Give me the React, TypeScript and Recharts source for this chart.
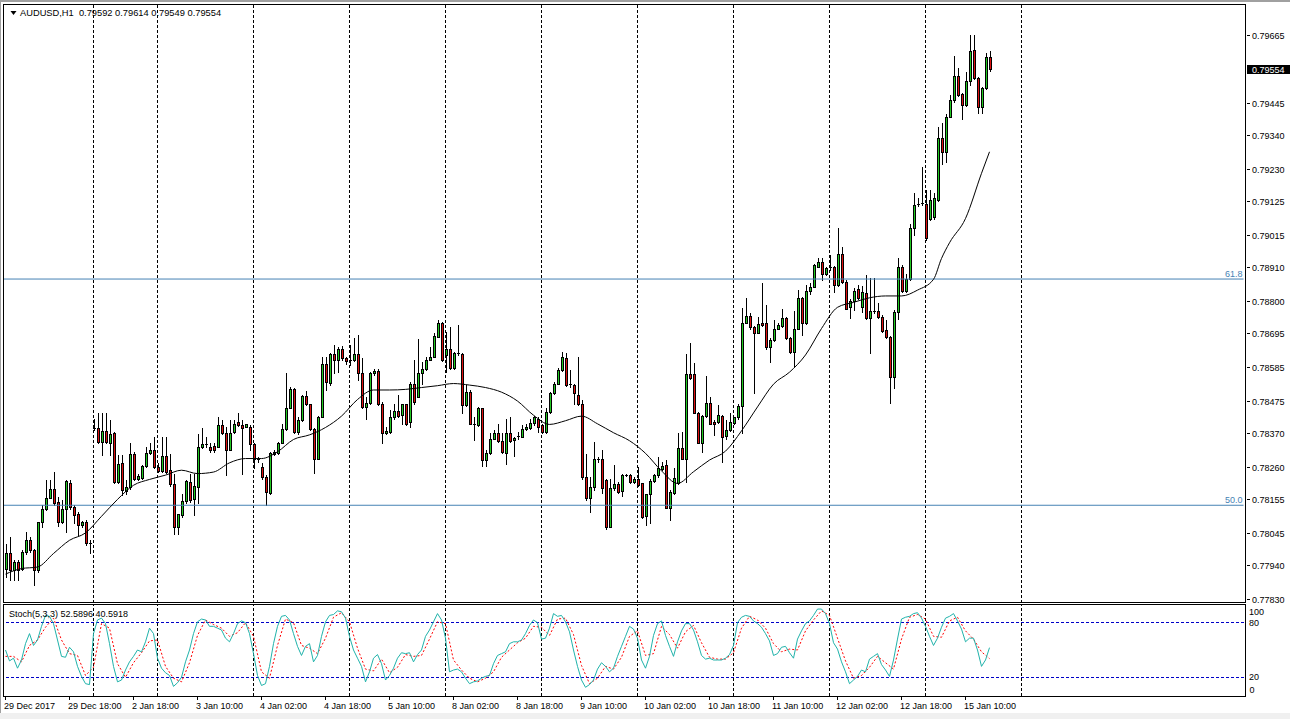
import { ComposedChart, Bar, Line, XAxis, YAxis, ReferenceLine } from 'recharts';

// AUDUSD H1 candles, bar 0 = 29 Dec 2017 02:00
const opens = [
  0.77929, 0.7798, 0.77924, 0.77951, 0.77929, 0.77983, 0.78021, 0.77989, 0.77924, 0.78081,
  0.78124, 0.7816, 0.78189, 0.78144, 0.78081, 0.78124, 0.78209, 0.7813, 0.78108, 0.7807,
  0.78079, 0.78013, 0.78385, 0.78385, 0.78341, 0.78376, 0.78338, 0.78371, 0.78211, 0.78271,
  0.78182, 0.78193, 0.78303, 0.7822, 0.78225, 0.78262, 0.78306, 0.78316, 0.78258, 0.78247,
  0.78295, 0.78249, 0.78203, 0.78063, 0.78103, 0.78148, 0.78211, 0.78154, 0.78193, 0.78325,
  0.78334, 0.78325, 0.78327, 0.78325, 0.78396, 0.78369, 0.78316, 0.78374, 0.78407, 0.78396,
  0.7839, 0.7839, 0.78334, 0.78287, 0.7826, 0.78227, 0.78175, 0.78303, 0.78306, 0.78338,
  0.78382, 0.78453, 0.78512, 0.78374, 0.78412, 0.78492, 0.78464, 0.78382, 0.78287, 0.78423,
  0.78596, 0.78533, 0.78626, 0.78607, 0.78645, 0.78613, 0.78605, 0.78607, 0.78627, 0.78564,
  0.78455, 0.78468, 0.78564, 0.78573, 0.78466, 0.78369, 0.78374, 0.78421, 0.78441, 0.78428,
  0.78463, 0.78407, 0.78531, 0.78488, 0.78564, 0.78577, 0.78609, 0.78618, 0.78683, 0.78729,
  0.78624, 0.78645, 0.7858, 0.78629, 0.78627, 0.78461, 0.78504, 0.78401, 0.78396, 0.7845,
  0.78282, 0.78306, 0.78352, 0.78371, 0.78345, 0.78306, 0.78369, 0.78347, 0.78356, 0.78358,
  0.78382, 0.78385, 0.78403, 0.78417, 0.78396, 0.78374, 0.78439, 0.78499, 0.78531, 0.78575,
  0.78615, 0.78529, 0.78526, 0.78493, 0.78464, 0.78228, 0.78157, 0.78193, 0.78287, 0.78287,
  0.78217, 0.78065, 0.7819, 0.78203, 0.78182, 0.78235, 0.78233, 0.78211, 0.78222, 0.78206,
  0.781, 0.78171, 0.78215, 0.78233, 0.78252, 0.78266, 0.78127, 0.78176, 0.78206, 0.7832,
  0.78287, 0.78561, 0.78561, 0.78436, 0.78338, 0.78425, 0.78469, 0.78407, 0.78407, 0.78425,
  0.7836, 0.7838, 0.78403, 0.78421, 0.78458, 0.78729, 0.78751, 0.78714, 0.78696, 0.78727,
  0.78727, 0.78649, 0.78673, 0.7871, 0.78718, 0.78743, 0.78678, 0.78635, 0.7871, 0.78808,
  0.78727, 0.78833, 0.78846, 0.78911, 0.78925, 0.78889, 0.78906, 0.78909, 0.78851, 0.78954,
  0.78862, 0.78779, 0.788, 0.78837, 0.78779, 0.78826, 0.78743, 0.78767, 0.78767, 0.78748,
  0.78705, 0.78681, 0.78553, 0.78764, 0.78909, 0.78833, 0.7887, 0.79036, 0.79111, 0.79114,
  0.79115, 0.79065, 0.79072, 0.79128, 0.79329, 0.79285, 0.79399, 0.79454, 0.79532, 0.79473,
  0.79437, 0.79515, 0.79616, 0.79524, 0.79432, 0.79492, 0.79592,
];
const highs = [
  0.7801, 0.78032, 0.77956, 0.77956, 0.77989, 0.78048, 0.78032, 0.77994, 0.78081, 0.78135,
  0.78217, 0.78217, 0.78244, 0.78162, 0.78152, 0.78217, 0.78217, 0.78135, 0.78114, 0.78084,
  0.78086, 0.78021, 0.78417, 0.78436, 0.78434, 0.78436, 0.78412, 0.78374, 0.78298, 0.78298,
  0.78217, 0.78336, 0.78309, 0.78238, 0.78265, 0.78325, 0.78336, 0.78358, 0.78271, 0.78358,
  0.78358, 0.78303, 0.78238, 0.78108, 0.78173, 0.78217, 0.78238, 0.78238, 0.78368, 0.78385,
  0.78358, 0.78336, 0.78336, 0.78423, 0.78412, 0.7839, 0.78412, 0.78412, 0.78434, 0.78412,
  0.78401, 0.78396, 0.78336, 0.78293, 0.78271, 0.78233, 0.78309, 0.78314, 0.78341, 0.78401,
  0.78564, 0.7852, 0.78515, 0.78423, 0.78493, 0.78507, 0.78466, 0.78385, 0.78425, 0.78618,
  0.78618, 0.78629, 0.78656, 0.78651, 0.78653, 0.78618, 0.78656, 0.78678, 0.78689, 0.78613,
  0.78488, 0.78569, 0.78577, 0.78577, 0.78472, 0.7839, 0.78445, 0.78466, 0.78493, 0.78466,
  0.78466, 0.78537, 0.78607, 0.78675, 0.78602, 0.78618, 0.78651, 0.78694, 0.78737, 0.78732,
  0.787, 0.78716, 0.78634, 0.78721, 0.78629, 0.78526, 0.7851, 0.78423, 0.78455, 0.78453,
  0.78314, 0.78369, 0.78379, 0.78401, 0.78369, 0.78417, 0.78423, 0.78358, 0.78374, 0.78396,
  0.78401, 0.78417, 0.78425, 0.78423, 0.78401, 0.7845, 0.78504, 0.78537, 0.7858, 0.78634,
  0.78629, 0.78575, 0.78529, 0.78618, 0.78477, 0.78303, 0.78228, 0.78341, 0.78293, 0.78314,
  0.78222, 0.78222, 0.78266, 0.78211, 0.78238, 0.78238, 0.78238, 0.78227, 0.7826, 0.78208,
  0.78173, 0.78222, 0.78238, 0.78293, 0.78276, 0.78282, 0.78184, 0.78255, 0.78371, 0.78374,
  0.78627, 0.78662, 0.78597, 0.78439, 0.78428, 0.78555, 0.78488, 0.78412, 0.78461, 0.78428,
  0.78412, 0.78434, 0.78423, 0.78466, 0.78776, 0.78808, 0.78759, 0.78718, 0.78748, 0.78857,
  0.78786, 0.78678, 0.78738, 0.78727, 0.78772, 0.78748, 0.78683, 0.78768, 0.78835, 0.78814,
  0.78852, 0.78857, 0.7892, 0.78938, 0.78938, 0.78911, 0.78949, 0.78913, 0.79036, 0.78976,
  0.78868, 0.78805, 0.78841, 0.78851, 0.78848, 0.78884, 0.78873, 0.78873, 0.78792, 0.78754,
  0.78738, 0.78685, 0.7877, 0.78941, 0.78917, 0.78889, 0.7905, 0.79152, 0.79134, 0.79237,
  0.79161, 0.79161, 0.79152, 0.79367, 0.79378, 0.79408, 0.7947, 0.79597, 0.79557, 0.79477,
  0.79546, 0.79665, 0.79665, 0.7953, 0.79497, 0.79608, 0.79614,
];
const lows = [
  0.77902, 0.77891, 0.77891, 0.77891, 0.77924, 0.77978, 0.77983, 0.77875, 0.77918, 0.78065,
  0.78119, 0.78157, 0.78135, 0.78067, 0.78076, 0.78048, 0.78124, 0.78076, 0.78038, 0.78065,
  0.78005, 0.7798, 0.78379, 0.78336, 0.78298, 0.78336, 0.78298, 0.78206, 0.78206, 0.78168,
  0.78173, 0.78189, 0.78217, 0.78217, 0.78222, 0.7826, 0.78303, 0.78255, 0.78244, 0.78244,
  0.7824, 0.78197, 0.78043, 0.78043, 0.78097, 0.78141, 0.78146, 0.78103, 0.78141, 0.7832,
  0.78325, 0.78309, 0.78309, 0.78323, 0.78366, 0.78235, 0.78314, 0.78371, 0.78392, 0.78238,
  0.78388, 0.78314, 0.78255, 0.78276, 0.78222, 0.78135, 0.78173, 0.78298, 0.78303, 0.78336,
  0.7838, 0.7845, 0.78371, 0.78366, 0.7841, 0.78461, 0.7838, 0.78241, 0.78284, 0.78421,
  0.7851, 0.78526, 0.78566, 0.78569, 0.78607, 0.78596, 0.78591, 0.78605, 0.78542, 0.78453,
  0.78417, 0.78466, 0.78558, 0.78461, 0.78338, 0.78366, 0.78371, 0.78417, 0.78423, 0.78401,
  0.78396, 0.7839, 0.78466, 0.78486, 0.78531, 0.78575, 0.78607, 0.78616, 0.78681, 0.78605,
  0.78569, 0.78577, 0.78577, 0.78624, 0.78434, 0.78458, 0.78399, 0.78347, 0.78392, 0.78262,
  0.78262, 0.78303, 0.78349, 0.78341, 0.78306, 0.78269, 0.78341, 0.78295, 0.78352, 0.78356,
  0.7838, 0.78382, 0.78396, 0.78374, 0.78371, 0.78371, 0.78436, 0.78497, 0.78529, 0.78573,
  0.78523, 0.7852, 0.78464, 0.78461, 0.78222, 0.78152, 0.78114, 0.78184, 0.78276, 0.78175,
  0.78059, 0.78063, 0.78186, 0.78176, 0.78165, 0.7823, 0.78208, 0.78208, 0.78197, 0.78092,
  0.7807, 0.78076, 0.78211, 0.78228, 0.78249, 0.78125, 0.78086, 0.78173, 0.78204, 0.78284,
  0.78211, 0.78545, 0.78434, 0.78336, 0.78309, 0.78423, 0.78399, 0.78363, 0.78403, 0.78276,
  0.78349, 0.78377, 0.78401, 0.78417, 0.78369, 0.78727, 0.7871, 0.78501, 0.78694, 0.78718,
  0.78645, 0.78602, 0.7867, 0.78707, 0.78716, 0.78675, 0.78631, 0.78588, 0.78707, 0.78689,
  0.78725, 0.78822, 0.78844, 0.78909, 0.78868, 0.78884, 0.78902, 0.7883, 0.78848, 0.78859,
  0.78772, 0.78743, 0.7877, 0.78805, 0.78765, 0.7874, 0.78631, 0.78759, 0.78743, 0.787,
  0.78678, 0.78468, 0.78515, 0.78741, 0.7883, 0.7883, 0.78868, 0.79014, 0.79109, 0.79112,
  0.78998, 0.79063, 0.79065, 0.79126, 0.79245, 0.79253, 0.79397, 0.79448, 0.79467, 0.79393,
  0.79434, 0.79502, 0.79521, 0.79412, 0.79412, 0.79488, 0.79549,
];
const closes = [
  0.7798, 0.77924, 0.77951, 0.77924, 0.77983, 0.78021, 0.77989, 0.77924, 0.78081, 0.78124,
  0.7816, 0.78189, 0.78141, 0.78081, 0.78124, 0.78213, 0.7813, 0.78103, 0.7807, 0.78079,
  0.78013, 0.78008, 0.78382, 0.78341, 0.78376, 0.78341, 0.78368, 0.78211, 0.78269, 0.78184,
  0.78193, 0.78303, 0.78222, 0.7823, 0.78262, 0.78306, 0.78316, 0.7826, 0.78247, 0.78295,
  0.78244, 0.78203, 0.78063, 0.78105, 0.78148, 0.78214, 0.78152, 0.78197, 0.78325, 0.78334,
  0.78331, 0.78314, 0.78316, 0.78396, 0.78369, 0.78316, 0.78371, 0.78399, 0.78396, 0.78385,
  0.78399, 0.78334, 0.78287, 0.78284, 0.78227, 0.78179, 0.78306, 0.78309, 0.78338, 0.78382,
  0.78453, 0.78512, 0.78374, 0.78412, 0.7849, 0.78464, 0.78382, 0.78284, 0.78423, 0.78596,
  0.78537, 0.78626, 0.78607, 0.78645, 0.78613, 0.78605, 0.78609, 0.78627, 0.78564, 0.78455,
  0.78468, 0.78564, 0.78573, 0.78466, 0.78369, 0.78377, 0.78421, 0.78441, 0.78425, 0.78463,
  0.78401, 0.78531, 0.78472, 0.78564, 0.78577, 0.78609, 0.78618, 0.78685, 0.78729, 0.78607,
  0.78642, 0.7858, 0.78629, 0.78627, 0.78461, 0.78504, 0.78401, 0.78396, 0.7845, 0.78282,
  0.78306, 0.78352, 0.78371, 0.78345, 0.78309, 0.78369, 0.78345, 0.78354, 0.7836, 0.78382,
  0.78388, 0.78403, 0.78421, 0.78388, 0.78374, 0.78439, 0.78499, 0.78531, 0.78575, 0.78618,
  0.78526, 0.78525, 0.78499, 0.78464, 0.78228, 0.78157, 0.78193, 0.78287, 0.78282, 0.7819,
  0.78065, 0.7819, 0.78203, 0.78179, 0.78235, 0.78232, 0.78211, 0.78222, 0.78201, 0.78097,
  0.78171, 0.78215, 0.78235, 0.78255, 0.78262, 0.78127, 0.78178, 0.78225, 0.7832, 0.78287,
  0.78561, 0.78548, 0.78436, 0.78338, 0.78425, 0.78469, 0.78401, 0.78398, 0.78428, 0.78358,
  0.7838, 0.78407, 0.78421, 0.78458, 0.78729, 0.78751, 0.78714, 0.78696, 0.78725, 0.78721,
  0.78649, 0.78673, 0.7871, 0.78721, 0.78743, 0.78678, 0.78635, 0.7871, 0.78808, 0.78727,
  0.78833, 0.78846, 0.78917, 0.78925, 0.78889, 0.78906, 0.78909, 0.78851, 0.78954, 0.78862,
  0.78775, 0.788, 0.78833, 0.78808, 0.7883, 0.78743, 0.78767, 0.78764, 0.78746, 0.78703,
  0.78681, 0.78551, 0.78764, 0.78909, 0.78833, 0.7887, 0.79036, 0.79112, 0.79115, 0.79119,
  0.79003, 0.79128, 0.79134, 0.79329, 0.79285, 0.79399, 0.79454, 0.79532, 0.7947, 0.79437,
  0.79515, 0.79613, 0.79524, 0.79432, 0.79492, 0.79592, 0.79554,
];

// moving average, read at these bars
const maBars = [
  0, 4, 8, 12, 16, 20, 24, 28, 32, 36, 40, 44, 48, 52, 56, 60, 64, 68, 72, 76, 80, 84, 88, 92,
  96, 100, 104, 108, 112, 116, 120, 124, 128, 132, 136, 140, 144, 148, 152, 156, 160, 164, 168,
  172, 176, 180, 184, 188, 192, 196, 200, 204, 208, 212, 216, 220, 224, 228, 232, 234, 236, 240,
  244, 246,
];
const maValues = [
  0.77911, 0.77929, 0.77934, 0.77978, 0.78021, 0.78045, 0.78099, 0.78154, 0.782, 0.78219,
  0.78233, 0.78249, 0.78238, 0.78243, 0.78273, 0.78287, 0.78287, 0.78309, 0.78349, 0.78364,
  0.78388, 0.78425, 0.78479, 0.7851, 0.7851, 0.78512, 0.78518, 0.78524, 0.78531, 0.78526,
  0.78518, 0.78503, 0.78474, 0.78428, 0.78398, 0.7841, 0.78425, 0.784, 0.78371, 0.78345,
  0.78304, 0.78247, 0.78206, 0.78244, 0.78282, 0.78311, 0.78377, 0.78455, 0.78529, 0.78568,
  0.78624, 0.7871, 0.78779, 0.78795, 0.7881, 0.78816, 0.78816, 0.78835, 0.7887, 0.78938,
  0.78989, 0.79068, 0.79215, 0.79285,
];

// Stoch(5,3,3) main line, one value per bar
const stochK = [
  50, 38, 41, 30, 39, 57, 68, 55, 61, 76, 88, 87, 79, 61, 43, 42, 53, 48, 32, 21,
  13, 12, 68, 83, 85, 79, 57, 32, 15, 17, 28, 37, 43, 50, 48, 59, 74, 68, 41, 30,
  25, 22, 10, 14, 20, 37, 50, 68, 81, 84, 83, 76, 76, 74, 72, 63, 59, 68, 79, 82,
  80, 68, 46, 22, 11, 13, 32, 57, 76, 87, 88, 83, 68, 54, 44, 54, 57, 37, 44, 65,
  81, 88, 89, 93, 92, 85, 65, 50, 41, 32, 15, 26, 41, 45, 35, 17, 22, 30, 41, 47,
  46, 47, 37, 45, 50, 65, 72, 81, 90, 83, 63, 26, 28, 29, 26, 19, 13, 15, 16, 19,
  21, 22, 35, 44, 46, 48, 57, 59, 59, 61, 68, 77, 83, 80, 62, 63, 74, 90, 87, 88,
  81, 70, 50, 32, 17, 9, 12, 17, 29, 36, 32, 26, 30, 43, 54, 65, 76, 73, 63, 39,
  30, 43, 66, 79, 82, 66, 54, 43, 59, 71, 79, 79, 72, 59, 44, 40, 41, 39, 39, 39,
  41, 45, 55, 80, 86, 88, 87, 82, 79, 75, 68, 60, 44, 46, 53, 54, 47, 41, 62, 71,
  79, 82, 88, 95, 95, 90, 79, 58, 51, 37, 26, 13, 17, 21, 28, 26, 40, 43, 46, 34,
  28, 21, 39, 62, 84, 86, 87, 90, 91, 85, 76, 65, 55, 63, 75, 85, 87, 90, 82, 73,
  59, 63, 63, 50, 32, 39, 52.5896,
];
// signal line, read every second bar
const stochD = [
  43, 43, 37, 55, 61, 75, 85, 61, 46, 44, 22, 31, 79, 74, 35, 20, 36, 47, 60, 61,
  32, 19, 15, 36, 66, 83, 78, 74, 65, 69, 80, 65, 26, 19, 55, 84, 80, 55, 52, 46,
  63, 86, 91, 81, 52, 29, 27, 40, 25, 31, 45, 43, 44, 62, 81, 79, 39, 28, 19, 15,
  19, 26, 42, 50, 58, 63, 76, 75, 66, 84, 85, 67, 33, 13, 19, 32, 29, 42, 65, 71,
  44, 46, 76, 67, 52, 70, 77, 58, 42, 40, 40, 47, 74, 87, 83, 74, 57, 48, 51, 50,
  71, 83, 93, 88, 63, 38, 19, 22, 31, 43, 36, 29, 62, 86, 89, 84, 65, 64, 82, 86,
  71, 62, 48, 40.5918,
];

const timeTicks = [0, 16, 32, 48, 64, 80, 96, 112, 128, 144, 160, 176, 192, 208, 224, 240];
const timeLabels = [
  '29 Dec 2017', '29 Dec 18:00', '2 Jan 18:00', '3 Jan 10:00', '4 Jan 02:00', '4 Jan 18:00',
  '5 Jan 10:00', '8 Jan 02:00', '8 Jan 18:00', '9 Jan 10:00', '10 Jan 02:00', '10 Jan 18:00',
  '11 Jan 10:00', '12 Jan 02:00', '12 Jan 18:00', '15 Jan 10:00',
];
const priceTicks = [
  0.79665, 0.79554, 0.79445, 0.7934, 0.7923, 0.79125, 0.79015, 0.7891, 0.788, 0.78695, 0.78585,
  0.78475, 0.7837, 0.7826, 0.78155, 0.78045, 0.7794, 0.7783,
];
const separators = [22, 38, 62, 86, 110, 134, 158, 182, 206, 230, 254];
const fibLevels = [0.78871, 0.78135];
const fibNames = ['61.8', '50.0'];
const stochLevels = [80, 20];
const stochTicks = [20, 80, 100];

const SLOTS = 310;
const FONT = '"Liberation Sans", Arial, sans-serif';
const GREEN = '#22c922';
const RED = '#dd1111';
const lastClose = closes[closes.length - 1];

const rows = Array.from({ length: SLOTS }, (_, i) => {
  const has = i < closes.length;
  const m = maBars.indexOf(i);
  return {
    i,
    range: has ? [lows[i], highs[i]] : undefined,
    o: opens[i],
    h: highs[i],
    l: lows[i],
    c: closes[i],
    ma: m >= 0 ? maValues[m] : undefined,
    k: has ? stochK[i] : undefined,
    d: i % 2 === 0 && i / 2 < stochD.length ? stochD[i / 2] : undefined,
  };
});

function Candle(props: any) {
  const { x, y, width, height, payload } = props;
  if (!payload || payload.c === undefined || !isFinite(y)) return null;
  const { o, h, l, c } = payload;
  const top = Math.min(y, y + height);
  const span = Math.abs(height);
  const cx = Math.floor(x + width / 2) + 0.5;
  const py = (p: number) => top + (h === l ? 0 : ((h - p) / (h - l)) * span);
  const bTop = Math.round(py(Math.max(o, c)));
  const bBot = Math.round(py(Math.min(o, c)));
  return (
    <g shapeRendering="crispEdges">
      <line x1={cx} x2={cx} y1={Math.round(top)} y2={Math.round(top + span) + 1} stroke="#000" />
      {bBot - bTop >= 2 ? (
        <rect
          x={cx - 1}
          y={bTop + 0.5}
          width={2}
          height={bBot - bTop}
          fill={c > o ? GREEN : RED}
          stroke="#000"
          strokeWidth={1}
        />
      ) : (
        <line x1={cx - 1.5} x2={cx + 1.5} y1={bTop + 0.5} y2={bTop + 0.5} stroke="#000" />
      )}
    </g>
  );
}

function PriceTick(props: any) {
  const { x, y, payload } = props;
  const v = payload.value;
  const ax = Math.round(x);
  const yy = Math.round(y) + 0.5;
  if (v === lastClose) {
    return (
      <g>
        <rect x={ax + 3} y={yy - 4.5} width={50} height={9} fill="#000" />
        <text x={ax + 8} y={yy + 3} fill="#fff" fontSize={9} fontFamily={FONT}>
          {v.toFixed(5)}
        </text>
      </g>
    );
  }
  return (
    <g>
      <line x1={ax + 3} x2={ax + 6} y1={yy} y2={yy} stroke="#000" shapeRendering="crispEdges" />
      <text x={ax + 8} y={yy + 3} fill="#000" fontSize={9} fontFamily={FONT}>
        {v.toFixed(5)}
      </text>
    </g>
  );
}

function StochTick(props: any) {
  const { x, y, payload } = props;
  const v = payload.value;
  const shift = v === 100 ? 7 : 0;
  return (
    <text x={Math.round(x) + 5} y={y + shift + 3} fill="#000" fontSize={9} fontFamily={FONT}>
      {String(v)}
    </text>
  );
}

// the bottom label of the stochastic scale, drawn off the 0 level
const zeroLabel = (props: any) => {
  const vb = props.viewBox || {};
  return (
    <text x={Math.round(vb.x + vb.width) + 5.5} y={vb.y - 2.5} fill="#000" fontSize={9} fontFamily={FONT}>
      0
    </text>
  );
};

function TimeTick(props: any) {
  const { x, y, payload } = props;
  const idx = timeTicks.indexOf(payload.value);
  const tx = Math.floor(x) + 0.5;
  return (
    <g>
      <line x1={tx} x2={tx} y1={y + 1} y2={y + 4.5} stroke="#000" shapeRendering="crispEdges" />
      <text x={tx - 1.5} y={y + 13.5} fill="#000" fontSize={9} fontFamily={FONT}>
        {timeLabels[idx]}
      </text>
    </g>
  );
}

const fibLabel = (name: string) => (props: any) => {
  const vb = props.viewBox || {};
  return (
    <text x={vb.x + vb.width - 1} y={vb.y - 2} textAnchor="end" fill="#4682b4" fontSize={9} fontFamily={FONT}>
      {name}
    </text>
  );
};

export default function App() {
  return (
    <div
      style={{
        position: 'absolute',
        left: 0,
        top: 0,
        width: 1290,
        height: 719,
        background: '#fff',
        overflow: 'hidden',
        fontFamily: FONT,
      }}
    >
      <div style={{ position: 'absolute', left: 0, top: 0, width: 1290, height: 2, background: '#a0a0a0' }} />
      <div style={{ position: 'absolute', left: 0, top: 0, width: 1, height: 719, background: '#a0a0a0' }} />
      <div style={{ position: 'absolute', left: 0, top: 713, width: 1290, height: 6, background: '#f0f0f0' }} />

      <div style={{ position: 'absolute', left: 0, top: 0 }}>
        <ComposedChart width={1290} height={604} data={rows} margin={{ top: 4, right: 0, bottom: 1.5, left: 3.5 }}>
          <XAxis dataKey="i" type="category" scale="band" hide />
          <YAxis
            orientation="right"
            width={46.5}
            type="number"
            domain={[0.778186, 0.797659]}
            allowDataOverflow
            ticks={priceTicks}
            interval={0}
            axisLine={false}
            tickLine={false}
            tickSize={0}
            tickMargin={0}
            tick={PriceTick}
          />
          {separators.map((s) => (
            <ReferenceLine key={s} x={s} stroke="#000" strokeDasharray="3 2" shapeRendering="crispEdges" />
          ))}
          {fibLevels.map((f, n) => (
            <ReferenceLine key={f} y={f} stroke="#4682b4" strokeWidth={1} label={fibLabel(fibNames[n])} />
          ))}
          <Line
            dataKey="ma"
            type="monotone"
            stroke="#000"
            strokeWidth={1}
            dot={false}
            connectNulls
            isAnimationActive={false}
          />
          <Bar dataKey="range" barSize={3} shape={(p: any) => <Candle {...p} />} isAnimationActive={false} />
        </ComposedChart>
      </div>

      <div style={{ position: 'absolute', left: 0, top: 600 }}>
        <ComposedChart width={1290} height={119} data={rows} margin={{ top: 4.5, right: 0, bottom: 3.5, left: 3.5 }}>
          <XAxis
            dataKey="i"
            type="category"
            scale="band"
            height={20}
            ticks={timeTicks}
            interval={0}
            axisLine={false}
            tickLine={false}
            tickSize={0}
            tickMargin={0}
            tick={TimeTick}
          />
          <YAxis
            orientation="right"
            width={46.5}
            type="number"
            domain={[0, 100]}
            allowDataOverflow
            ticks={stochTicks}
            interval={0}
            axisLine={false}
            tickLine={false}
            tickSize={0}
            tickMargin={0}
            tick={StochTick}
          />
          {separators.map((s) => (
            <ReferenceLine key={s} x={s} stroke="#000" strokeDasharray="3 2" shapeRendering="crispEdges" />
          ))}
          {stochLevels.map((lv) => (
            <ReferenceLine key={lv} y={lv} stroke="#0000c8" strokeDasharray="3 2" shapeRendering="crispEdges" />
          ))}
          <ReferenceLine y={0} stroke="none" label={zeroLabel} />
          <Line dataKey="d" type="linear" stroke="#ff0000" strokeDasharray="2 2" strokeWidth={1} dot={false} connectNulls isAnimationActive={false} />
          <Line dataKey="k" type="linear" stroke="#20b2aa" strokeWidth={1} dot={false} connectNulls isAnimationActive={false} />
        </ComposedChart>
      </div>

      {/* panel frames */}
      <div style={{ position: 'absolute', left: 3, top: 4, width: 1243, height: 599, border: '1px solid #000', boxSizing: 'border-box', pointerEvents: 'none' }} />
      <div style={{ position: 'absolute', left: 3, top: 604, width: 1243, height: 93, border: '1px solid #000', boxSizing: 'border-box', pointerEvents: 'none' }} />

      <svg style={{ position: 'absolute', left: 10, top: 10 }} width={7} height={6}>
        <polygon points="0.5,1 6.5,1 3.5,5" fill="#000" />
      </svg>
      <div style={{ position: 'absolute', left: 20, top: 7, fontSize: 9.3, lineHeight: '12px', color: '#000', whiteSpace: 'pre' }}>
        {`AUDUSD,H1  ${opens[opens.length - 1].toFixed(5)} ${highs[highs.length - 1].toFixed(5)} ${lows[lows.length - 1].toFixed(5)} ${lastClose.toFixed(5)}`}
      </div>
      <div style={{ position: 'absolute', left: 9, top: 608, fontSize: 9, lineHeight: '12px', color: '#000', whiteSpace: 'pre' }}>
        {`Stoch(5,3,3) ${stochK[stochK.length - 1].toFixed(4)} ${stochD[stochD.length - 1].toFixed(4)}`}
      </div>
    </div>
  );
}
